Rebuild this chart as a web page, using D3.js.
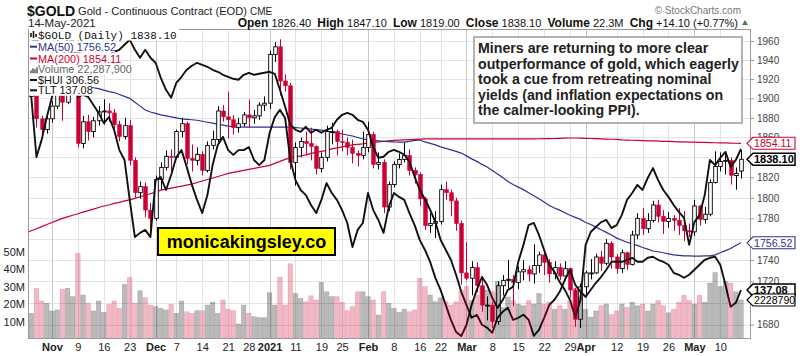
<!DOCTYPE html>
<html><head><meta charset="utf-8">
<script src="https://cdn.jsdelivr.net/npm/d3@7"></script>
<style>body{margin:0;background:#fff;}svg{display:block;font-family:Arial,"Liberation Sans",sans-serif;}</style>
</head><body><svg id="c" width="803" height="356"></svg>
<script>
const dates = [
"2020-10-26","2020-10-27","2020-10-28","2020-10-29","2020-10-30",
"2020-11-02","2020-11-03","2020-11-04","2020-11-05","2020-11-06","2020-11-09","2020-11-10","2020-11-11","2020-11-12","2020-11-13","2020-11-16","2020-11-17","2020-11-18","2020-11-19","2020-11-20","2020-11-23","2020-11-24","2020-11-25","2020-11-27","2020-11-30",
"2020-12-01","2020-12-02","2020-12-03","2020-12-04","2020-12-07","2020-12-08","2020-12-09","2020-12-10","2020-12-11","2020-12-14","2020-12-15","2020-12-16","2020-12-17","2020-12-18","2020-12-21","2020-12-22","2020-12-23","2020-12-24","2020-12-28","2020-12-29","2020-12-30","2020-12-31",
"2021-01-04","2021-01-05","2021-01-06","2021-01-07","2021-01-08","2021-01-11","2021-01-12","2021-01-13","2021-01-14","2021-01-15","2021-01-19","2021-01-20","2021-01-21","2021-01-22","2021-01-25","2021-01-26","2021-01-27","2021-01-28","2021-01-29",
"2021-02-01","2021-02-02","2021-02-03","2021-02-04","2021-02-05","2021-02-08","2021-02-09","2021-02-10","2021-02-11","2021-02-12","2021-02-16","2021-02-17","2021-02-18","2021-02-19","2021-02-22","2021-02-23","2021-02-24","2021-02-25","2021-02-26",
"2021-03-01","2021-03-02","2021-03-03","2021-03-04","2021-03-05","2021-03-08","2021-03-09","2021-03-10","2021-03-11","2021-03-12","2021-03-15","2021-03-16","2021-03-17","2021-03-18","2021-03-19","2021-03-22","2021-03-23","2021-03-24","2021-03-25","2021-03-26","2021-03-29","2021-03-30","2021-03-31",
"2021-04-01","2021-04-05","2021-04-06","2021-04-07","2021-04-08","2021-04-09","2021-04-12","2021-04-13","2021-04-14","2021-04-15","2021-04-16","2021-04-19","2021-04-20","2021-04-21","2021-04-22","2021-04-23","2021-04-26","2021-04-27","2021-04-28","2021-04-29","2021-04-30",
"2021-05-03","2021-05-04","2021-05-05","2021-05-06","2021-05-07","2021-05-10","2021-05-11","2021-05-12","2021-05-13","2021-05-14"];

const open = [1905,1902,1908,1879,1868,
1879,1892,1910,1896,1946,1951,1854,1876,1866,1877,1886,1887,1885,1873,1861,1872,1837,1805,1811,1788,
1780,1818,1830,1841,1840,1866,1874,1839,1837,1843,1827,1852,1858,1887,1881,1878,1870,1874,1883,1880,1882,1893,
1895,1946,1954,1918,1913,1835,1850,1856,1854,1851,1829,1840,1866,1866,1856,1855,1850,1844,1842,
1850,1863,1833,1835,1791,1813,1833,1838,1842,1827,1823,1799,1773,1775,1777,1808,1805,1797,1775,
1728,1723,1733,1716,1698,1698,1683,1716,1721,1722,1719,1729,1731,1727,1735,1745,1738,1727,1733,1725,1732,1712,1685,
1715,1728,1728,1743,1737,1756,1743,1732,1747,1736,1764,1780,1770,1778,1793,1782,1777,1780,1778,1773,1768,
1767,1792,1779,1784,1815,1831,1836,1837,1822,1826.4];
const high = [1911,1914,1910,1882,1885,
1897,1915,1924,1952,1965,1966,1882,1883,1881,1892,1899,1895,1889,1877,1880,1878,1840,1816,1815,1795,
1822,1835,1847,1848,1868,1880,1876,1853,1850,1846,1856,1867,1892,1893,1907,1883,1880,1886,1899,1888,1896,1902,
1950,1959,1962,1925,1916,1855,1860,1866,1870,1852,1845,1872,1875,1868,1868,1860,1858,1847,1866,
1876,1866,1845,1838,1816,1836,1844,1855,1848,1830,1825,1801,1785,1787,1813,1816,1808,1800,1778,
1757,1739,1738,1725,1706,1701,1720,1726,1740,1726,1734,1740,1735,1755,1748,1748,1741,1739,1737,1739,1733,1714,1718,
1730,1741,1746,1749,1760,1758,1746,1750,1748,1768,1785,1790,1785,1797,1798,1788,1786,1783,1790,1787,1775,
1798,1793,1791,1818,1846,1845,1845,1840,1830,1847.1];
const low = [1895,1898,1870,1860,1864,
1875,1889,1877,1894,1933,1850,1849,1857,1860,1872,1873,1876,1865,1856,1858,1832,1800,1799,1781,1764,
1778,1808,1827,1826,1838,1860,1833,1826,1832,1822,1825,1848,1855,1876,1859,1863,1865,1871,1870,1874,1878,1887,
1889,1938,1903,1907,1828,1812,1840,1842,1837,1823,1825,1836,1853,1842,1846,1842,1834,1831,1838,
1845,1829,1828,1785,1787,1810,1829,1835,1822,1814,1792,1769,1766,1761,1774,1798,1782,1768,1717,
1721,1707,1710,1692,1684,1677,1680,1707,1714,1697,1713,1721,1720,1718,1728,1726,1719,1722,1721,1721,1705,1678,1677,
1705,1722,1727,1730,1735,1732,1727,1728,1731,1735,1760,1764,1766,1776,1776,1765,1771,1768,1764,1758,1762,
1763,1773,1775,1782,1814,1826,1823,1813,1808,1819];
const close = [1902,1908,1879,1868,1879,
1892,1910,1896,1946,1951,1854,1876,1866,1877,1886,1887,1885,1873,1861,1872,1837,1805,1811,1788,1780,
1818,1830,1841,1840,1866,1874,1839,1837,1843,1827,1852,1858,1887,1881,1878,1870,1874,1883,1880,1882,1893,1895,
1946,1954,1918,1913,1835,1850,1856,1854,1851,1829,1840,1866,1866,1856,1855,1850,1844,1842,1850,
1863,1833,1835,1791,1813,1833,1838,1842,1827,1823,1799,1773,1775,1777,1808,1805,1797,1775,1728,
1723,1733,1716,1698,1698,1683,1716,1721,1722,1719,1729,1731,1727,1735,1745,1738,1727,1733,1725,1732,1712,1685,1715,
1728,1728,1743,1737,1756,1743,1732,1747,1736,1764,1780,1770,1778,1793,1782,1777,1780,1778,1773,1768,1767,
1792,1779,1784,1815,1831,1836,1837,1822,1824,1838.1];
// volume in millions
const volume = [15.6,14.7,29,21.7,20.4,
16,16.6,28.4,29,24.2,49,25.1,20.4,16,21.7,15.2,19.8,21.7,17.5,31.2,35.2,20.4,27.6,23.6,19.4,
18.5,17.5,16.6,19.8,14.7,21.7,15.6,14.7,16.2,16.2,19.4,21,14.7,22.3,17,16.2,8.6,19.4,14.7,12.8,12.2,12.2,
26.5,19.4,35.4,19.4,43,26,23.2,21.3,24.7,22.3,32.4,27,24.2,24.2,21,16.2,18.5,27,27,
24.2,22.3,13.7,27,20.4,17.5,15.2,17.1,15.6,16.6,34.7,29.9,25.1,21.3,23.6,21.3,19.4,21.3,28,
30,22,25,30,28,27,33,18,24,22,20,19,22,20,26,20,21,17,19,17,22,29,24,
17,12.5,16,19,20,14,16,20,18,21,19,20,16,20,22,19,15,17,21,25,22,
20,25,21,32,38,30,33,32,27,22.2879];
const ma50 = [1916,1916,1915.5,1915,1914.5,
1914,1913.5,1913,1913,1912.5,1912,1912,1911.5,1911,1910,1908.5,1907,1906,1904,1902,1900,1896,1892,1888,1886,
1884.5,1883,1882,1881,1880,1879,1878.5,1878,1877.5,1876.5,1875.5,1874.5,1873.5,1872.5,1871.5,1871,1871,1870.6,1870.6,1870.6,1870.6,1870.6,
1870.6,1870.6,1870.6,1870.6,1870.5,1870,1869.6,1869,1868.5,1868,1867.5,1866.5,1865.5,1864.5,1863.5,1862.5,1861.5,1860,1858.5,
1857.5,1857,1856.5,1856,1855.8,1855.5,1855.4,1855.4,1856,1857,1857.4,1855.5,1854,1852.5,1850.5,1849,1847.5,1846,1844.3,
1841.5,1838.5,1836,1833,1830.4,1827,1823.5,1820,1816,1813,1810.5,1808,1805,1802,1799,1796,1792.5,1790,1788,1785.5,1783,1781,1779,
1776,1774,1771.5,1769,1766.5,1764,1761,1759,1757,1755.5,1754,1752,1750.5,1748.7,1748,1747,1746,1745,1744.5,1744.1,1744,
1743.8,1743.8,1744,1744.1,1745,1747,1749,1751,1754,1756.52];
const ma200 = [1766,1768,1770,1772,1774,
1776,1778,1780,1781.5,1783,1784.5,1786,1787.5,1789,1790.5,1792,1793,1794.5,1795.5,1797,1798,1799.5,1801,1802.5,1804,
1805.5,1807.5,1808.5,1809.5,1810.5,1811.5,1812.5,1813.5,1815,1816.5,1818,1819.5,1821,1822.5,1824,1825,1826,1827,1828,1829,1830,1831,
1832,1834,1836,1838,1839.5,1840.5,1841.5,1842.5,1844,1845,1846,1847,1848.5,1849.5,1850.5,1851.5,1852.5,1853,1853.5,
1854.5,1855,1855.5,1856,1856.5,1857,1857.3,1857.6,1857.9,1858.1,1858.3,1858.5,1858.5,1858.5,1858.5,1858.5,1858.5,1858.5,1858.5,
1858.5,1858.5,1858.5,1858.5,1858.5,1858.5,1858.5,1858.5,1858.5,1858.5,1858.5,1858.5,1858.5,1858.6,1858.7,1858.8,1858.9,1859,1859.2,1859.4,1859.5,1859.5,1859.4,
1859.2,1859,1858.8,1858.6,1858.4,1858.2,1858,1857.5,1857.3,1857.2,1857,1856.8,1856.6,1856.5,1856.3,1856.1,1856,1855.8,1855.6,1855.5,1855.4,
1855.3,1855.1,1855,1854.9,1854.7,1854.6,1854.5,1854.4,1854.2,1854.11];
const hui = [326.2,323.9,303.9,309.6,317.2,
323.9,329.6,335.6,343.6,345.2,323.9,324.6,323.9,321.2,318.6,315.2,317.2,312.9,306.2,302.9,289.6,277.2,278.6,279.6,277.2,
296.2,297.2,292.9,297.9,303.9,306.2,300.6,294.6,289.6,285.2,291.2,301.2,307.9,310.6,306.2,304.6,306.2,306.2,307.2,302.9,301.2,302.9,
311.9,317.2,319.6,316.9,302.9,296.2,292.9,291.2,287.9,285.2,289.6,295.2,291.9,289.6,286.2,281.9,273.9,279.6,281.9,
291.9,286.2,282.9,278.6,287.2,291.9,290.6,289.6,285.2,281.2,276.2,272.9,268.9,263.6,259.6,254.6,249.6,245.6,244.2,
247.9,254.6,259.6,263.9,261.2,256.9,253.6,256.2,259.6,260.6,268.9,274.6,281.2,281.9,277.9,272.9,267.9,265.6,262.2,259.6,256.2,250.6,256.2,
274.6,278.9,280.6,282.2,282.9,280.2,281.2,284.6,289.6,291.9,294.6,292.9,296.9,300.2,296.2,292.9,290.6,287.9,285.6,283.6,274.6,
282.2,284.6,291.2,302.9,301.2,303.6,305.6,300.6,302.9,306.56];
const tlt = [161.6,161.9,162.1,161.7,161.3,
161.1,161.9,162.9,162.6,161.6,158.1,157.6,158.6,159.6,160.1,159.9,160.6,160.9,161.1,161.6,162.1,161.1,160.3,161.1,160.3,
159.8,158.3,157.1,156.3,157.8,158.4,159.1,159.5,159.8,159.6,159.4,159.1,158.9,158.6,158.4,158.2,158.1,158.6,158.8,158.6,158.7,158.8,
158.9,158.7,157.1,155.4,153.6,153.1,152.9,153.4,152.8,153.1,152.8,153.1,153.3,154.1,154.6,154.8,154.6,154.1,153.9,
153.1,151.4,150.3,150.4,150.9,151.1,150.9,150.6,149.9,148.4,147.1,146.1,145.1,143.9,142.1,141.1,140.1,138.6,136.9,
135.6,134.3,134.6,133.6,133.3,132.8,134.3,134.9,135.3,134.1,134.3,134.6,134.1,132.5,133.1,134.3,135.6,136.1,136.9,138.1,139.1,137.6,136.9,
136.4,137.1,137.8,138.4,139.1,139.9,139.9,139.9,140.1,140.3,139.9,139.9,140.3,140.4,140.1,139.9,139.6,138.8,138.6,138.3,138.6,
139.1,139.6,140.1,140.3,140.4,139.6,137.6,135.4,135.8,137.08];

const priceTicks = [1960,1940,1920,1900,1880,1860,1840,1820,1800,1780,1760,1740,1720,1700,1680];
const volTicks = [10,20,30,40,50];
const tickDates = ["2020-11-02","2020-11-09","2020-11-16","2020-11-23","2020-12-01","2020-12-07","2020-12-14","2020-12-21","2020-12-28","2021-01-04","2021-01-11","2021-01-19","2021-01-25","2021-02-01","2021-02-08","2021-02-16","2021-02-22","2021-03-01","2021-03-08","2021-03-15","2021-03-22","2021-03-29","2021-04-01","2021-04-12","2021-04-19","2021-04-26","2021-05-03","2021-05-10"];
const tickLabels = ["Nov","9","16","23","Dec","7","14","21","28","2021","11","19","25","Feb","8","16","22","Mar","8","15","22","29","Apr","12","19","26","May","10"];
const majorLabels = ["Nov","Dec","2021","Feb","Mar","Apr","May"];
const noteLines = ["Miners are returning to more clear","outperformance of gold, which eagerly","took a cue from retreating nominal","yields (and inflation expectations on","the calmer-looking PPI)."];

const svg = d3.select("#c");
const L = 28, R = 751, T = 29, B = 339;
const x = d3.scalePoint().domain(dates).range([26.1, 741]);
const y = d3.scaleLog().domain([1667, 1973]).range([B, T]);
const yv = d3.scaleLinear().domain([0, 50]).range([B, 251.5]);
const yh = d3.scaleLinear().domain([243.23, 346.56]).range([B, T]);
const yt = d3.scaleLinear().domain([132.18, 163.18]).range([B, T]);

const RED = "#cc0033", NAVY = "#2e3192";
const FONT = "Arial, 'Liberation Sans', sans-serif";

svg.append("defs").append("clipPath").attr("id","clip")
  .append("rect").attr("x",L).attr("y",T).attr("width",R-L).attr("height",B-T);

// gridlines
const grid = svg.append("g");
grid.selectAll(".hg").data(priceTicks).enter().append("line")
  .attr("x1",L).attr("x2",R).attr("y1",d=>Math.round(y(d))+0.5).attr("y2",d=>Math.round(y(d))+0.5)
  .attr("stroke","#e3e3e3");
grid.selectAll(".vg").data(tickDates).enter().append("line")
  .attr("y1",T).attr("y2",B).attr("x1",d=>Math.round(x(d))+0.5).attr("x2",d=>Math.round(x(d))+0.5)
  .attr("stroke",(d,i)=>majorLabels.includes(tickLabels[i])?"#c8c8c8":"#e3e3e3");

const plot = svg.append("g").attr("clip-path","url(#clip)");
const idx = d3.range(dates.length);
const down = i => i>0 && close[i] < close[i-1];
const line = (arr, sc) => d3.line().x((d,i)=>x(dates[i])).y(d=>sc(d))(arr);

// moving averages
plot.append("path").attr("d", line(ma200, y)).attr("fill","none").attr("stroke",RED).attr("stroke-width",1.2);
plot.append("path").attr("d", line(ma50, y)).attr("fill","none").attr("stroke",NAVY).attr("stroke-width",1.2);

// candles
const cg = plot.append("g");
idx.forEach(i=>{
  const cx = Math.round(x(dates[i]))+0.5;
  const col = down(i) ? RED : "#000";
  cg.append("line").attr("x1",cx).attr("x2",cx).attr("y1",y(high[i])).attr("y2",y(low[i])).attr("stroke",col).attr("stroke-width",1);
  const top = y(Math.max(open[i],close[i])), bot = y(Math.min(open[i],close[i]));
  const hollow = close[i] >= open[i];
  cg.append("rect").attr("x",cx-1.8).attr("width",3.6).attr("y",top).attr("height",Math.max(1,bot-top))
    .attr("fill", hollow ? "#fff" : col).attr("stroke",col).attr("stroke-width",hollow?0.9:0.6);
});

// overlay symbols
plot.append("path").attr("d", line(tlt, yt)).attr("fill","none").attr("stroke","#111").attr("stroke-width",1.9).attr("stroke-linejoin","round");
plot.append("path").attr("d", line(hui, yh)).attr("fill","none").attr("stroke","#111").attr("stroke-width",1.9).attr("stroke-linejoin","round");

// volume (translucent, on top)
const bw = x.step();
plot.append("g").selectAll("rect").data(idx).enter().append("rect")
  .attr("x", i=>x(dates[i])-bw/2+0.3).attr("width", bw-0.6)
  .attr("y", i=>yv(volume[i])).attr("height", i=>B-yv(volume[i]))
  .attr("fill", i=>down(i)?"rgba(204,0,51,0.28)":"rgba(0,0,0,0.27)")
  .attr("stroke", i=>down(i)?"rgba(204,0,51,0.22)":"rgba(0,0,0,0.2)").attr("stroke-width",0.6);

// frame
svg.append("rect").attr("x",L+0.5).attr("y",T+0.5).attr("width",R-L-1).attr("height",B-T-1).attr("fill","none").attr("stroke","#9a9a9a");

// axes
const xa = svg.append("g").attr("transform",`translate(0,${B})`)
  .call(d3.axisBottom(x).tickValues(tickDates).tickFormat((d,i)=>tickLabels[i]).tickSize(0).tickPadding(4));
xa.select(".domain").remove();
xa.selectAll("text").attr("font-size",11).attr("fill","#222").attr("font-family",FONT)
  .attr("font-weight",(d,i)=>majorLabels.includes(tickLabels[i])?"bold":"normal");

const tags = [
  {v:ma200[ma200.length-1], sc:y, label:"1854.11", color:RED, bold:false},
  {v:close[close.length-1], sc:y, label:"1838.10", color:"#000", bold:true},
  {v:ma50[ma50.length-1], sc:y, label:"1756.52", color:NAVY, bold:false},
  {v:tlt[tlt.length-1], sc:yt, label:"137.08", color:"#000", bold:true},
  {v:volume[volume.length-1], sc:yv, label:"2228790", color:"#000", bold:false}
];
const tagYs = tags.map(t=>t.sc(t.v));
const shownTicks = priceTicks.filter(p=>!tagYs.some(ty=>Math.abs(ty-y(p))<4.5));

const ya = svg.append("g").attr("transform",`translate(${R},0)`)
  .call(d3.axisRight(y).tickValues(shownTicks).tickFormat(d3.format("d")).tickSize(3).tickPadding(3));
ya.select(".domain").remove();
ya.selectAll("line").attr("stroke","#999");
ya.selectAll("text").attr("font-size",10).attr("fill","#444").attr("font-family",FONT);

const va = svg.append("g").attr("transform",`translate(${L-2},0)`)
  .call(d3.axisLeft(yv).tickValues(volTicks).tickFormat(d=>d+"M").tickSize(0).tickPadding(1));
va.select(".domain").remove();
va.selectAll("text").attr("font-size",11).attr("fill","#222").attr("font-family",FONT);

tags.forEach(t=>{
  const cy = t.sc(t.v);
  const g = svg.append("g");
  g.append("path").attr("d",`M${R-4},${cy} L${R+2},${cy-6} L${R+44},${cy-6} L${R+44},${cy+6} L${R+2},${cy+6} Z`)
    .attr("fill","#fff").attr("stroke",t.color).attr("stroke-width",t.bold?1.5:1.1);
  g.append("text").attr("x",R+3).attr("y",cy+4).attr("font-size",t.bold?11:10.6).attr("font-weight",t.bold?"bold":"normal")
    .attr("fill",t.bold?"#000":t.color).text(t.label);
});

// yellow watermark box
svg.append("rect").attr("x",158).attr("y",228).attr("width",177).attr("height",27).attr("fill","#ffff00").attr("stroke","#000").attr("stroke-width",2);
svg.append("text").attr("x",246.5).attr("y",248).attr("text-anchor","middle").attr("font-size",18).attr("font-weight","bold").attr("fill","#000").text("monicakingsley.co");

// annotation
svg.append("rect").attr("x",474).attr("y",37).attr("width",268).attr("height",86).attr("fill","#fff").attr("stroke","#9a9a9a").attr("stroke-width",1.5);
svg.append("g").selectAll("text").data(noteLines).enter().append("text")
  .attr("x",478).attr("y",(d,i)=>53+i*15.5).attr("font-size",14.2).attr("font-weight","bold").attr("fill","#222").text(d=>d);

// legend
const leg = svg.append("g");
const legRows = [
  {t:"$GOLD (Daily) 1838.10", c:"#111", y:39, mono:true, w:150},
  {t:"MA(50) 1756.52", c:NAVY, y:50.7, w:86},
  {t:"MA(200) 1854.11", c:RED, y:62.5, w:89},
  {t:"Volume 22,287,900", c:"#666", y:73.3, w:98},
  {t:"$HUI 306.56", c:"#111", y:84, w:75},
  {t:"TLT 137.08", c:"#111", y:94.3, w:63}
];
legRows.forEach(r=>{
  leg.append("rect").attr("x",L+1).attr("y",r.y-10).attr("width",r.w).attr("height",11.5).attr("fill","#fff");
});
legRows.forEach((r,k)=>{
  if(k===0){
    [[31,33,37],[33.5,31,38],[36,34,37]].forEach(b=>{leg.append("line").attr("x1",b[0]).attr("x2",b[0]).attr("y1",b[1]).attr("y2",b[2]).attr("stroke","#111").attr("stroke-width",1.6);});
  } else if(k===3){
    [[31,3],[33,5],[35,4],[37,6]].forEach(b=>{leg.append("rect").attr("x",b[0]-0.8).attr("width",1.6).attr("y",r.y-b[1]).attr("height",b[1]).attr("fill","#666");});
  } else {
    leg.append("line").attr("x1",30).attr("x2",37).attr("y1",r.y-4).attr("y2",r.y-4).attr("stroke",r.c).attr("stroke-width",2);
  }
  leg.append("text").attr("x",38).attr("y",r.y).attr("font-size",r.mono?11:10.9)
    .attr("font-family",r.mono?"'Liberation Mono','DejaVu Sans Mono',monospace":FONT)
    .attr("fill",r.c).text(r.t);
});

// header
svg.append("text").attr("x",27).attr("y",16).attr("font-size",14).attr("font-weight","bold").attr("fill","#111").text("$GOLD");
svg.append("text").attr("x",78).attr("y",15).attr("font-size",11.1).attr("fill","#222").text("Gold - Continuous Contract (EOD)");
svg.append("text").attr("x",250).attr("y",15).attr("font-size",10).attr("fill","#222").text("CME");
svg.append("text").attr("x",28).attr("y",26.5).attr("font-size",11.5).attr("fill","#222").text("14-May-2021");
svg.append("text").attr("x",741).attr("y",14).attr("text-anchor","end").attr("font-size",10).attr("fill","#777").text("\u00A9 StockCharts.com");
const stats = svg.append("text").attr("x",738).attr("y",27).attr("text-anchor","end").attr("fill","#111").attr("style","white-space:pre");
[["Open",1],[" 1826.40  ",0],["High",1],[" 1847.10  ",0],["Low",1],[" 1819.00  ",0],["Close",1],[" 1838.10  ",0],["Volume",1],[" 22.3M  ",0],["Chg",1],[" +14.10 (+0.77%)",0]]
  .forEach(p=>stats.append("tspan").attr("font-size",p[1]?12:11).attr("font-weight",p[1]?"bold":"normal").text(p[0]));
svg.append("path").attr("d","M742,25 L748,25 L745,20 Z").attr("fill","#3a8a3a");
</script></body></html>
